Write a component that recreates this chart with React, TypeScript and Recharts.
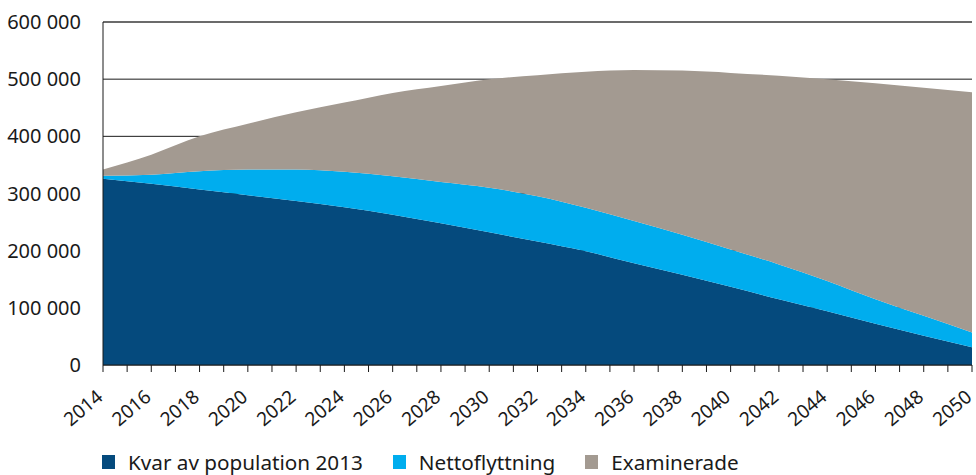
import { Area, AreaChart, CartesianGrid, Legend, ReferenceLine, XAxis, YAxis } from "recharts";

const years = [2014, 2016, 2018, 2020, 2022, 2024, 2026, 2028, 2030, 2032, 2034, 2036, 2038, 2040, 2042, 2044, 2046, 2048, 2050];
// thousands, stacked pieces
const kvar = [326, 317, 307, 297, 287, 276, 263, 248, 232, 216, 199, 178, 158, 137, 115, 94, 72, 51, 31];
const netto = [5, 16, 32, 45, 55, 62, 67, 72, 78, 79, 76, 74, 70, 65, 61, 53, 43, 35, 26];
const examinerade = [11, 35, 61, 80, 100, 121, 146, 168, 190, 212, 238, 264, 287, 309, 330, 353, 378, 399, 420];

const seriesNames = ["Kvar av population 2013", "Nettoflyttning", "Examinerade"];
const seriesColors = ["#054a7d", "#00adee", "#a39a91"];

const yTicks = [0, 100000, 200000, 300000, 400000, 500000, 600000];
const xTicks = Array.from({ length: 37 }, (_, i) => 2014 + i);

const data = years.map((year, i) => ({
  year,
  kvar: kvar[i] * 1000,
  netto: netto[i] * 1000,
  examinerade: examinerade[i] * 1000,
}));

const font = "'Noto Sans', 'Open Sans', sans-serif";

const fmtY = (v: number) => (v === 0 ? "0" : `${v / 1000} 000`);

function YearTick(props: any) {
  const { x, y, payload } = props;
  if (payload.value % 2 !== 0) return null;
  const ax = x + 1;
  const ay = y + 25;
  return (
    <text
      x={ax}
      y={ay}
      textAnchor="end"
      fontSize={19}
      fontFamily={font}
      fill="#1a1a1a"
      transform={`rotate(-40 ${ax} ${ay})`}
    >
      {payload.value}
    </text>
  );
}

function LegendBox() {
  return (
    <div style={{ display: "flex", fontFamily: font, fontSize: 20.7, color: "#1a1a1a", whiteSpace: "nowrap" }}>
      {seriesNames.map((name, i) => (
        <div key={name} style={{ display: "flex", alignItems: "center", marginRight: 30 }}>
          <span style={{ display: "inline-block", width: 13, height: 14, background: seriesColors[i], marginRight: 13 }} />
          <span>{name}</span>
        </div>
      ))}
    </div>
  );
}

export default function App() {
  return (
    <div style={{ position: "absolute", left: 0, top: 0, background: "#fff" }}>
      <AreaChart
        width={976}
        height={475}
        data={data}
        margin={{ top: 22, right: 4, left: 0, bottom: 0 }}
      >
        <CartesianGrid vertical={false} stroke="#1a1a1a" strokeWidth={1} />
        <XAxis
          dataKey="year"
          type="number"
          domain={[2014, 2050]}
          ticks={xTicks}
          interval={0}
          height={110}
          stroke="#1a1a1a"
          tickSize={7}
          tick={<YearTick />}
        />
        <YAxis
          domain={[0, 600000]}
          ticks={yTicks}
          width={103}
          tickFormatter={fmtY}
          tickLine={false}
          tickSize={0}
          tickMargin={22}
          stroke="#1a1a1a"
          tick={{ fontSize: 20, fontFamily: font, fill: "#1a1a1a" }}
        />
        <Area dataKey="kvar" name={seriesNames[0]} stackId="a" type="monotone" stroke="none" fill={seriesColors[0]} fillOpacity={1} isAnimationActive={false} />
        <Area dataKey="netto" name={seriesNames[1]} stackId="a" type="monotone" stroke="none" fill={seriesColors[1]} fillOpacity={1} isAnimationActive={false} />
        <Area dataKey="examinerade" name={seriesNames[2]} stackId="a" type="monotone" stroke="none" fill={seriesColors[2]} fillOpacity={1} isAnimationActive={false} />
        <ReferenceLine y={600000} stroke="#6b6b6b" strokeWidth={2} />
        <Legend
          layout="horizontal"
          verticalAlign="middle"
          align="center"
          content={<LegendBox />}
          wrapperStyle={{ top: 448, left: 102, width: "auto" }}
        />
      </AreaChart>
    </div>
  );
}
